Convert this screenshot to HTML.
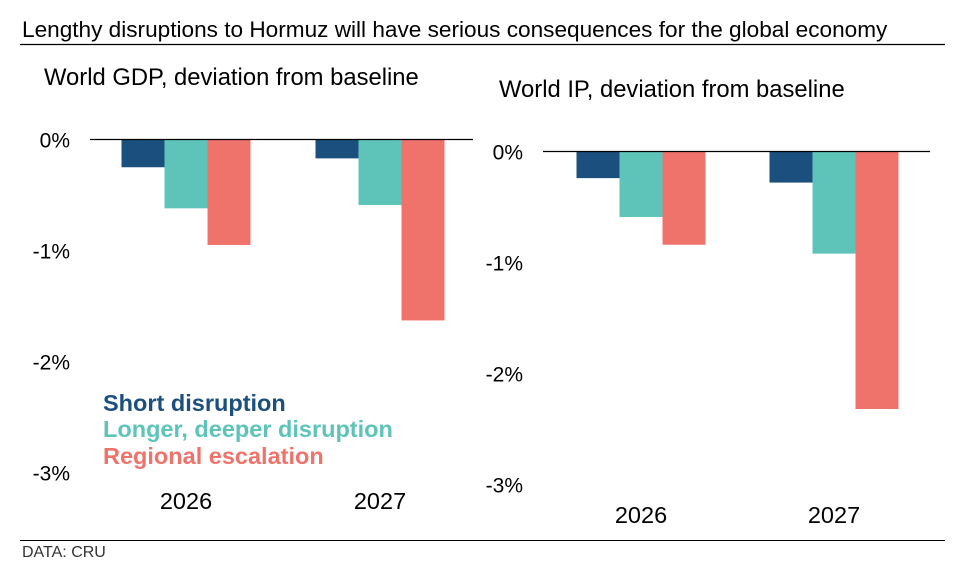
<!DOCTYPE html>
<html><head><meta charset="utf-8"><style>
body{margin:0;background:#fff;width:968px;height:582px;overflow:hidden;font-family:"Liberation Sans",Arial,sans-serif}
svg text{font-family:"Liberation Sans",Arial,sans-serif}
</style></head><body>
<svg width="968" height="582">
<text x="22" y="37" font-size="22.6" fill="#000">Lengthy disruptions to Hormuz will have serious consequences for the global economy</text>
<line x1="20" x2="945" y1="44.5" y2="44.5" stroke="#000" stroke-width="1.2"/>
<line x1="20" x2="945" y1="540.5" y2="540.5" stroke="#000" stroke-width="1"/>
<text x="22" y="557" font-size="16" fill="#333">DATA: CRU</text>
<text x="44" y="85" font-size="23.8">World GDP, deviation from baseline</text>
<text x="499" y="97" font-size="23.8">World IP, deviation from baseline</text>
<g id="left"></g>
<g id="right"></g>
<g font-size="23.5" font-weight="bold">
<text x="103" y="411" fill="#1b4f7e">Short disruption</text>
<text x="103" y="437" fill="#5ec4b9">Longer, deeper disruption</text>
<text x="103" y="464" fill="#f0736b">Regional escalation</text>
</g>
</svg>
<script>
const categories=["2026","2027"];
const tickValues=[0,-1,-2,-3];
const tickLabels=["0%","-1%","-2%","-3%"];
const seriesNames=["Short disruption","Longer, deeper disruption","Regional escalation"];
const colors=["#1b4f7e","#5ec4b9","#f0736b"];
const gdpShort=[-0.25,-0.17];
const gdpLonger=[-0.62,-0.59];
const gdpRegional=[-0.95,-1.63];
const ipShort=[-0.24,-0.28];
const ipLonger=[-0.59,-0.92];
const ipRegional=[-0.84,-2.32];
const NS="http://www.w3.org/2000/svg";
function panel(g,cfg,series){
  const ys=v=>cfg.y0+(-v)*111;
  tickValues.forEach((t,i)=>{
    const tx=document.createElementNS(NS,"text");
    tx.setAttribute("x",cfg.tickX);tx.setAttribute("y",ys(t)+8);
    tx.setAttribute("text-anchor","end");tx.setAttribute("font-size","21");
    tx.textContent=tickLabels[i];
    
    
    g.appendChild(tx);
  });
  categories.forEach((c,ci)=>{
    const cx=cfg.c0+ci*cfg.step;
    series.forEach((s,si)=>{
      const v=s[ci];
      const r=document.createElementNS(NS,"rect");
      r.setAttribute("x",cx-64.5+si*43);r.setAttribute("width",43);
      r.setAttribute("y",ys(0));r.setAttribute("height",Math.max(0,ys(v)-ys(0)));
      r.setAttribute("fill",colors[si]);
      
      
      g.appendChild(r);
    });
    const tx=document.createElementNS(NS,"text");
    tx.setAttribute("x",cx);tx.setAttribute("y",cfg.catY);
    tx.setAttribute("text-anchor","middle");tx.setAttribute("font-size","23.5");
    tx.textContent=c;
    
    
    g.appendChild(tx);
  });
  const l=document.createElementNS(NS,"line");
  l.setAttribute("x1",cfg.ax1);l.setAttribute("x2",cfg.ax2);
  l.setAttribute("y1",cfg.y0);l.setAttribute("y2",cfg.y0);
  l.setAttribute("stroke","#000");l.setAttribute("stroke-width","1.2");
  
  
  g.appendChild(l);
}
panel(document.getElementById("left"),{y0:139.5,tickX:70,c0:186,step:194,catY:509,ax1:90,ax2:473},[gdpShort,gdpLonger,gdpRegional]);
panel(document.getElementById("right"),{y0:151.5,tickX:523,c0:641,step:193,catY:523,ax1:543,ax2:930},[ipShort,ipLonger,ipRegional]);
</script>
</body></html>
